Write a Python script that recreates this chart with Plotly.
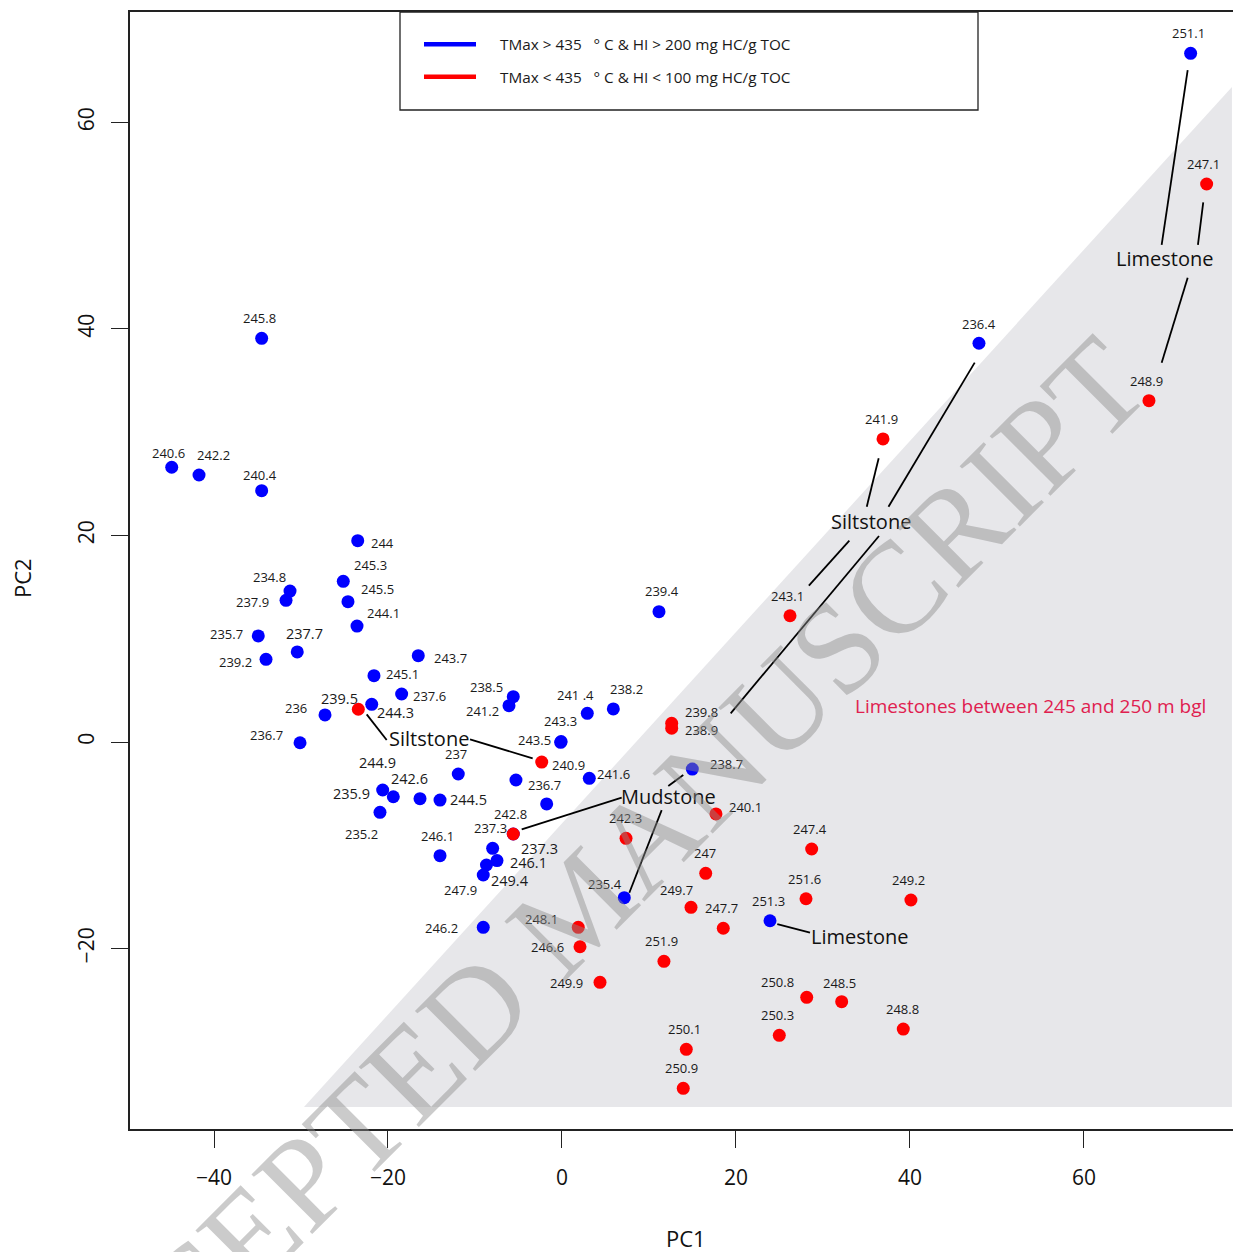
import plotly.graph_objects as go

# ---------------- data ----------------
# Blue: TMax > 435 °C & HI > 200 mg HC/g TOC
blue_label = ["251.1", "236.4", "245.8", "240.6", "242.2", "240.4", "244", "245.3", "234.8", "237.9",
              "245.5", "244.1", "235.7", "237.7", "239.2", "243.7", "245.1", "237.6", "244.3", "236",
              "236.7", "238.5", "241.2", "241 .4", "238.2", "243.5", "243.3", "241.6", "", "236.7",
              "237", "235.9", "244.9", "242.6", "244.5", "235.2", "246.1", "237.3", "246.1", "247.9",
              "249.4", "246.2", "239.4", "238.7", "235.4", "251.3", "237.3"]
blue_pc1 = [72.26, 47.93, -34.52, -44.86, -41.72, -34.52, -23.48, -25.14, -31.26, -31.72,
            -24.60, -23.56, -34.91, -30.43, -34.02, -16.52, -21.61, -18.43, -21.87, -27.24,
            -30.11, -5.60, -6.09, 2.91, 5.90, -0.15, -0.10, 3.14, -5.29, -1.76,
            -11.92, -20.61, -19.39, -16.32, -14.02, -20.92, -14.02, -7.97, -7.47, -8.68,
            -9.05, -9.05, 11.15, 14.98, 7.16, 23.91, -5.60]
blue_pc2 = [66.70, 38.62, 39.10, 26.61, 25.86, 24.34, 19.50, 15.56, 14.62, 13.72,
            13.59, 11.23, 10.27, 8.72, 8.01, 8.36, 6.42, 4.65, 3.65, 2.62,
            -0.07, 4.39, 3.52, 2.78, 3.20, -0.03, 0.05, -3.52, -3.68, -6.00,
            -3.10, -4.65, -5.30, -5.49, -5.62, -6.81, -11.01, -10.30, -11.48, -11.91,
            -12.88, -17.95, 12.62, -2.62, -15.08, -17.31, -8.91]

# Red: TMax < 435 °C & HI < 100 mg HC/g TOC
red_label = ["247.1", "248.9", "241.9", "243.1", "239.8", "238.9", "239.5", "240.9", "242.8", "240.1",
             "242.3", "247", "247.4", "251.6", "249.2", "249.7", "247.7", "248.1", "246.6", "251.9",
             "249.9", "250.8", "248.5", "250.3", "248.8", "250.1", "250.9"]
red_pc1 = [74.10, 67.47, 36.90, 26.21, 12.61, 12.61, -23.41, -2.33, -5.60, 17.70,
           7.36, 16.52, 28.70, 28.05, 40.11, 14.83, 18.54, 1.87, 2.07, 11.72,
           4.37, 28.13, 32.15, 24.98, 39.23, 14.29, 13.94]
red_pc2 = [54.04, 33.06, 29.35, 12.23, 1.81, 1.33, 3.17, -1.94, -8.91, -6.97,
           -9.33, -12.72, -10.36, -15.18, -15.30, -16.01, -18.04, -17.95, -19.83, -21.24,
           -23.27, -24.73, -25.15, -28.41, -27.80, -29.76, -33.54]

# Limestone zone (shaded region)
zone_pc1 = [-29.66, 77.01, 77.01, -29.66]
zone_pc2 = [-35.35, 63.44, -35.35, -35.35]

# Lithology call-outs: text, PC1, PC2
litho_text = ["Siltstone", "Siltstone", "Mudstone", "Limestone", "Limestone"]
litho_pc1 = [-15.25, 35.52, 12.22, 69.20, 34.17]
litho_pc2 = [0.36, 21.34, -5.30, 46.85, -18.86]

# Leader lines (PC1 start, PC2 start, PC1 end, PC2 end)
lead_x0 = [-22.45, -10.57, 36.40, 47.44, 33.03, 36.44, -4.63, 12.22, 11.46, 71.92, 73.71, 71.92, 24.75]
lead_y0 = [2.68, 0.26, 27.48, 36.74, 19.50, 19.95, -8.46, -4.26, -6.59, 65.08, 52.27, 44.97, -17.63]
lead_x1 = [-20.15, -3.37, 35.03, 37.53, 28.38, 19.39, 6.86, 13.94, 7.74, 68.93, 73.10, 68.93, 28.51]
lead_y1 = [0.19, -1.58, 22.79, 22.79, 15.14, 2.78, -5.39, -3.20, -14.60, 48.14, 48.14, 36.74, -18.47]

zone_note = "Limestones between 245 and 250 m bgl"
zone_note_pc1, zone_note_pc2 = 53.91, 3.49

x_ticks = [-40, -20, 0, 20, 40, 60]
y_ticks = [-20, 0, 20, 40, 60]
legend_labels = ["TMax &gt; 435\u00a0\u00a0\u00a0° C &amp; HI &gt; 200 mg HC/g TOC",
                 "TMax &lt; 435\u00a0\u00a0\u00a0° C &amp; HI &lt; 100 mg HC/g TOC"]

# ---------------- label placement (pixel offsets, style) ----------------
blue_dx = [-2, 0, -2, -3, 14, -2, 25, 27, -21, -34, 30, 26, -32, 7, -31, 32, 29, 28, 24, -29,
           -34, -27, -27, -12, 13, -26, -1, 24, 0, -2, -2, -31, -16, -11, 28, -18, -3, 47, 31, -26,
           27, -42, 3, 34, -19, -2, -23]
blue_dy = [-20, -19, -20, -14, -20, -16, 2, -16, -14, 2, -13, -13, -2, -18, 3, 2, -2, 2, 8, -7,
           -8, -10, 5, -18, -20, -2, -20, -4, 0, -19, -20, 3, -34, -20, -1, 22, -20, 0, 2, 25,
           5, 1, -21, -5, -14, -20, -6]
blue_big = {13, 18, 31, 32, 33, 34, 37, 38, 40}
red_dx = [-3, -2, -2, -3, 30, 30, -19, 27, -3, 30, -1, -1, -2, -2, -2, -15, -2, -37, -32, -2,
          -34, -29, -2, -2, -1, -2, -2]
red_dy = [-20, -20, -20, -20, -11, 2, -11, 3, -20, -7, -20, -20, -20, -20, -20, -17, -20, -8, 0, -20,
          1, -15, -19, -20, -20, -20, -20]
red_big = {6}

FONT = "Open Sans"
OFF = 8                      # page offset of the figure (body margin)
PL, PR, PT, PB = 130, 1241, 12, 1129   # plot area in page pixels
W, H = 1241 - OFF, 1252 - OFF
ML, MT = PL - OFF, PT - OFF
MR = W - (PR - OFF)
MB = H - (PB - OFF)


def px(xp):
    return (xp - PL) / (PR - PL)


def py(yp):
    return (PB - yp) / (PB - PT)


fig = go.Figure()

fig.add_trace(go.Scatter(x=zone_pc1, y=zone_pc2, fill="toself", fillcolor="#e7e7ea",
                         line=dict(width=0), mode="lines", hoverinfo="skip", showlegend=False))

lx, ly = [], []
for a, b, c, d in zip(lead_x0, lead_y0, lead_x1, lead_y1):
    lx += [a, c, None]
    ly += [b, d, None]
fig.add_trace(go.Scatter(x=lx, y=ly, mode="lines", line=dict(color="black", width=1.8),
                         hoverinfo="skip", showlegend=False))

fig.add_trace(go.Scatter(x=blue_pc1, y=blue_pc2, mode="markers", text=blue_label,
                         marker=dict(color="#0000ff", size=13, line=dict(width=0)),
                         showlegend=False))
fig.add_trace(go.Scatter(x=red_pc1, y=red_pc2, mode="markers", text=red_label,
                         marker=dict(color="#ff0000", size=13, line=dict(width=0)),
                         showlegend=False))

ann = []
for i, (t, x, y) in enumerate(zip(blue_label, blue_pc1, blue_pc2)):
    if not t:
        continue
    ann.append(dict(x=x, y=y, xref="x", yref="y", text=t, showarrow=False,
                    xanchor="center", yanchor="middle",
                    xshift=blue_dx[i], yshift=-blue_dy[i],
                    font=dict(family=FONT, size=14.5 if i in blue_big else 13, color="#1a1a1a")))
for i, (t, x, y) in enumerate(zip(red_label, red_pc1, red_pc2)):
    ann.append(dict(x=x, y=y, xref="x", yref="y", text=t, showarrow=False,
                    xanchor="center", yanchor="middle",
                    xshift=red_dx[i], yshift=-red_dy[i],
                    font=dict(family=FONT, size=14.5 if i in red_big else 13, color="#1a1a1a")))
for t, x, y in zip(litho_text, litho_pc1, litho_pc2):
    ann.append(dict(x=x, y=y, xref="x", yref="y", text=t, showarrow=False,
                    xanchor="center", yanchor="middle",
                    font=dict(family=FONT, size=20, color="#111111")))
ann.append(dict(x=zone_note_pc1, y=zone_note_pc2, xref="x", yref="y", text=zone_note,
                xanchor="center", yanchor="middle",
                showarrow=False, font=dict(family=FONT, size=19, color="#e0204f")))

# legend (drawn as a boxed key)
shapes = [dict(type="rect", xref="paper", yref="paper", x0=px(400), x1=px(978), y0=py(110), y1=py(12),
               line=dict(color="#222222", width=1.3), fillcolor="white", layer="below")]
for col, yy, lab in zip(["#0000ff", "#ff0000"], [44.3, 76.7], legend_labels):
    shapes.append(dict(type="line", xref="paper", yref="paper", x0=px(424), x1=px(476),
                       y0=py(yy), y1=py(yy), line=dict(color=col, width=4.5)))
    ann.append(dict(x=px(498), y=py(yy), xref="paper", yref="paper", text=lab, showarrow=False,
                    xanchor="left", yanchor="middle", font=dict(family=FONT, size=15.3, color="#1a1a1a")))

# axis titles
ann.append(dict(x=0.5, y=py(1238), xref="paper", yref="paper", text="PC1", showarrow=False,
                xanchor="center", yanchor="middle",
                font=dict(family=FONT, size=22, color="#111111")))
ann.append(dict(x=px(22), y=py(578), xref="paper", yref="paper", text="PC2", showarrow=False,
                xanchor="center", yanchor="middle",
                textangle=-90, font=dict(family=FONT, size=22, color="#111111")))

# watermark
ann.append(dict(x=px(578), y=py(906), xref="paper", yref="paper", text="ACCEPTED MANUSCRIPT",
                showarrow=False, textangle=-45, xanchor="center", yanchor="middle",
                font=dict(family="Liberation Serif", size=130, color="rgba(140,140,140,0.45)")))

fig.update_layout(
    width=W, height=H, margin=dict(l=ML, r=MR, t=MT, b=MB, pad=0),
    paper_bgcolor="white", plot_bgcolor="white",
    annotations=ann, shapes=shapes, showlegend=False,
    xaxis=dict(range=[-49.655, 78.05], tickvals=x_ticks, showgrid=False, zeroline=False,
               showline=True, mirror=True, linecolor="#222222", linewidth=1.5,
               ticks="outside", ticklen=17, tickwidth=1.3, tickcolor="#222222",
               ticklabelstandoff=12, tickfont=dict(family=FONT, size=21, color="#111111")),
    yaxis=dict(range=[-37.48, 70.70], tickvals=y_ticks, showgrid=False, zeroline=False,
               showline=True, mirror=False, linecolor="#222222", linewidth=1.5,
               ticks="outside", ticklen=17, tickwidth=1.3, tickcolor="#222222", tickangle=-90,
               ticklabelstandoff=9, tickfont=dict(family=FONT, size=21, color="#111111")),
)

fig.write_html("out.html")
